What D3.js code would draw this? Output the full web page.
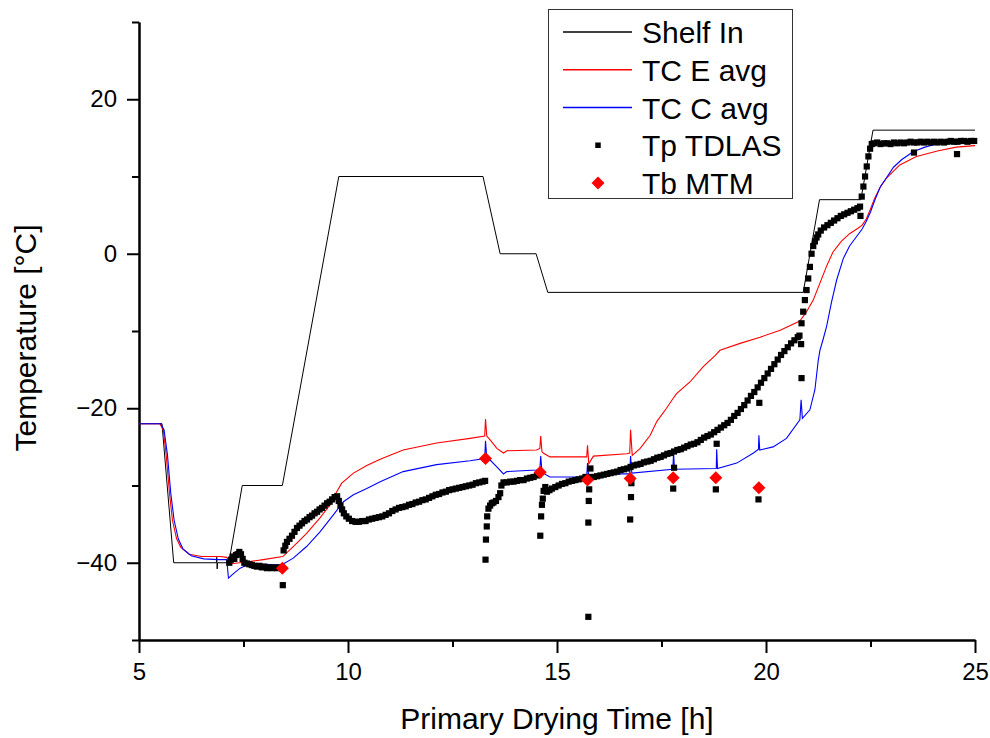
<!DOCTYPE html>
<html>
<head>
<meta charset="utf-8">
<script src="https://cdn.jsdelivr.net/npm/d3@7"></script>
<style>
  body { margin: 0; background: #fff; }
  svg { display: block; font-family: "Liberation Sans", Arial, sans-serif; }
</style>
</head>
<body>
<svg width="990" height="738"></svg>
<script>
// data: [time h, temperature °C]
var shelfIn = [[5,-22],[5.55,-22],[5.83,-40],[6.85,-40],[6.86,-39.3],[6.87,-40.8],[6.88,-40],[7.15,-40],
  [7.47,-30],[8.43,-30],[9.78,10],[13.23,10],[13.64,0],[14.5,0],[14.78,-5],[20.89,-5],[21.28,7],
  [22.27,7],[22.56,16],[25,16]];

var tcE = [[5,-22],[5.5,-22],[5.58,-22.8],[5.65,-26],[5.73,-31],[5.8,-34.5],[5.9,-36.9],[6,-38],
  [6.2,-38.9],[6.5,-39.2],[6.94,-39.2],[7.1,-39.3],[7.16,-39.9],[7.25,-40.1],[7.58,-39.9],[7.97,-39.6],
  [8.44,-39.2],[8.69,-37.9],[9.01,-36.2],[9.33,-34.2],[9.57,-32.5],[9.71,-31],[9.85,-29.7],[10.13,-28.4],
  [10.45,-27.4],[10.77,-26.6],[11.32,-25.4],[12.12,-24.5],[12.92,-23.9],[13.27,-23.6],[13.29,-21.4],
  [13.32,-23.6],[13.4,-24.1],[13.56,-25.2],[13.72,-25.8],[13.8,-25.5],[14.51,-25.4],[14.59,-25.2],
  [14.61,-23.6],[14.64,-25.6],[14.67,-25.8],[14.83,-26.3],[15.31,-26.3],[15.71,-26.3],[15.73,-24.8],
  [15.76,-27.2],[15.87,-26.2],[16.67,-25.9],[16.74,-25.8],[16.76,-22.8],[16.8,-26.1],[16.99,-25.2],
  [17.23,-23.5],[17.39,-21.7],[17.62,-20],[17.78,-18.7],[17.86,-18.1],[18.18,-16.6],[18.5,-14.6],
  [18.78,-13.2],[18.9,-12.5],[19.38,-11.6],[19.86,-10.8],[20.34,-9.9],[20.81,-8.7],[20.97,-7.5],
  [21.13,-6],[21.29,-3.8],[21.45,-1.6],[21.6,0.2],[21.8,1.6],[22,2.6],[22.2,3.3],[22.3,3.7],[22.4,4.5],
  [22.5,5.8],[22.6,7.2],[22.75,8.8],[22.9,9.9],[23.2,11.5],[23.6,12.6],[24.1,13.3],[24.55,13.8],[25,14]];

var tcC = [[5,-22],[5.52,-22],[5.6,-22.8],[5.68,-26],[5.76,-31],[5.84,-34.5],[5.94,-36.9],[6.05,-38.2],
  [6.25,-39.1],[6.55,-39.5],[6.9,-39.6],[7.1,-39.6],[7.14,-42],[7.26,-41.4],[7.42,-40.7],[7.58,-40.3],
  [7.97,-40.2],[8.41,-40.3],[8.69,-39.4],[9.01,-37.9],[9.33,-36],[9.65,-33.8],[9.89,-32.1],[10.13,-31.2],
  [10.45,-30.4],[10.77,-29.5],[11.32,-28.2],[12.12,-27.3],[12.92,-26.8],[13.27,-26.5],[13.29,-24.2],
  [13.32,-26.5],[13.4,-26.7],[13.56,-27.6],[13.72,-28.5],[13.8,-28.2],[14.51,-28],[14.59,-27.9],
  [14.61,-26.2],[14.64,-28.2],[14.67,-28.4],[14.83,-28.9],[15.71,-28.9],[15.73,-27.1],[15.76,-28.9],
  [16.51,-28.5],[16.74,-28.5],[16.76,-26.2],[16.79,-28.4],[17.77,-27.9],[17.79,-25.8],[17.81,-27.9],
  [18.81,-27.8],[18.82,-25.3],[18.84,-27.8],[19.3,-27.1],[19.7,-25.8],[19.82,-25.3],[19.83,-23.5],
  [19.85,-25.4],[20.17,-25],[20.49,-23.9],[20.81,-21.5],[20.84,-18.9],[20.87,-21.3],[21.05,-20.2],
  [21.17,-17.6],[21.25,-13.8],[21.29,-12.5],[21.37,-11],[21.45,-9.4],[21.57,-6.2],[21.69,-3.4],
  [21.85,-0.6],[22,1],[22.15,2.1],[22.3,3.2],[22.4,4.2],[22.5,5.4],[22.6,6.9],[22.73,8.6],[22.89,9.9],
  [23.05,11.2],[23.25,12.2],[23.52,13.2],[23.8,13.8],[24.08,14.2],[24.4,14.5],[25,14.7]];

var tpTdlas = [
  [7.16,-40],[7.2,-39.6],[7.24,-39.2],[7.28,-39.5],[7.32,-39],[7.36,-38.9],[7.4,-38.6],[7.44,-38.9],
  [7.48,-39.5],[7.52,-40],[7.58,-40.1],[7.64,-40.2],[7.7,-40.3],[7.76,-40.4],[7.82,-40.5],[7.88,-40.4],
  [7.94,-40.6],[8,-40.5],[8.06,-40.7],[8.12,-40.6],[8.18,-40.7],[8.24,-40.6],[8.3,-40.7],[8.36,-40.6],
  [8.42,-40.7],[8.44,-42.9],
  [8.46,-38.4],[8.5,-37.8],[8.54,-37.3],[8.6,-36.9],[8.66,-36.5],[8.72,-36],[8.78,-35.5],[8.84,-35.2],
  [8.9,-34.9],[8.96,-34.6],[9.02,-34.4],[9.08,-34.1],[9.14,-33.9],[9.2,-33.6],[9.26,-33.4],[9.32,-33.1],
  [9.38,-32.9],[9.44,-32.6],[9.5,-32.3],[9.56,-32.1],[9.62,-31.8],[9.68,-31.5],[9.74,-31.4],
  [9.78,-32],[9.82,-32.6],[9.86,-33.1],[9.9,-33.6],[9.96,-34],[10.02,-34.3],[10.1,-34.6],[10.18,-34.7],
  [10.26,-34.7],[10.34,-34.6],[10.42,-34.6],[10.5,-34.4],[10.58,-34.3],[10.66,-34.2],[10.74,-34.1],
  [10.82,-34],[10.9,-33.8],[10.98,-33.6],[11.06,-33.3],[11.14,-33.1],[11.22,-32.9],[11.3,-32.8],
  [11.38,-32.7],[11.46,-32.5],[11.54,-32.4],[11.62,-32.2],[11.7,-32.1],[11.78,-31.9],[11.86,-31.8],
  [11.94,-31.6],[12.02,-31.4],[12.1,-31.2],[12.18,-31.1],[12.26,-30.9],[12.34,-30.8],[12.42,-30.6],
  [12.5,-30.5],[12.58,-30.4],[12.66,-30.3],[12.74,-30.2],[12.82,-30.1],[12.9,-30],[12.98,-29.9],
  [13.06,-29.7],[13.14,-29.6],[13.22,-29.5],[13.28,-29.4],
  [13.29,-39.6],[13.3,-37],[13.32,-35.3],[13.33,-34],[13.36,-33],[13.4,-32.6],[13.44,-32.3],[13.48,-32.2],
  [13.54,-32],[13.6,-31.5],[13.64,-31],[13.67,-30],[13.72,-29.6],[13.8,-29.6],[13.88,-29.5],[13.96,-29.5],
  [14.04,-29.4],[14.12,-29.3],[14.2,-29.3],[14.28,-29.1],[14.36,-29],[14.44,-28.9],[14.52,-28.7],
  [14.56,-28.6],
  [14.6,-36.5],[14.62,-34],[14.64,-32.5],[14.66,-31.7],[14.68,-30.7],[14.72,-30.2],[14.76,-30.8],
  [14.82,-30.6],[14.88,-30.4],[14.96,-30.2],[15.04,-30],[15.12,-29.8],[15.2,-29.7],[15.28,-29.5],
  [15.36,-29.4],[15.44,-29.3],[15.52,-29.2],[15.6,-29.1],[15.68,-28.9],[15.72,-28.9],
  [15.75,-47],[15.75,-34.8],[15.76,-32],[15.77,-30.5],[15.8,-27.8],
  [15.82,-28.9],[15.88,-28.9],[15.96,-28.8],[16.04,-28.7],[16.12,-28.6],[16.2,-28.5],[16.28,-28.4],
  [16.36,-28.3],[16.44,-28.2],[16.52,-28],[16.6,-27.9],[16.68,-27.8],[16.76,-27.6],
  [16.75,-34.4],[16.77,-31.5],[16.78,-29.7],
  [16.84,-27.4],[16.92,-27.3],[17,-27.2],[17.08,-27],[17.16,-26.9],[17.24,-26.8],[17.32,-26.6],
  [17.4,-26.4],[17.48,-26.3],[17.56,-26.1],[17.64,-25.9],[17.72,-25.8],[17.8,-25.6],[17.88,-25.4],
  [17.96,-25.3],[18.04,-25.1],[18.12,-24.9],[18.2,-24.7],[18.28,-24.6],[18.36,-24.4],[18.44,-24.1],
  [18.52,-23.8],[18.6,-23.6],[18.68,-23.4],[18.76,-23.1],[18.84,-22.8],[18.92,-22.5],[19,-22.2],
  [19.08,-21.9],[19.16,-21.5],[19.24,-21],[19.32,-20.6],[19.4,-20.1],[19.48,-19.6],[19.56,-19],
  [19.64,-18.4],[19.72,-17.9],[19.8,-17.3],[19.88,-16.7],[19.96,-16.1],[20.04,-15.5],[20.12,-14.9],
  [20.2,-14.3],[20.28,-13.7],[20.36,-13.1],[20.44,-12.6],[20.52,-12.1],[20.6,-11.6],[20.68,-11.2],
  [20.76,-10.8],[20.8,-10.6],
  [17.78,-30.4],[17.8,-27.7],[18.8,-30.5],[18.82,-24.6],[19.82,-31.8],[19.84,-19.3],[20.85,-16.1],[20.84,-11.7],
  [20.85,-9],[20.89,-7.5],[20.93,-6],[20.97,-4.7],[21.01,-3.2],[21.05,-1.7],[21.09,0],[21.13,1],
  [21.17,1.6],[21.21,2.1],[21.25,2.5],[21.31,3],[21.39,3.4],[21.47,3.7],[21.55,4],[21.63,4.3],
  [21.71,4.6],[21.79,4.9],[21.87,5.1],[21.95,5.3],[22.03,5.5],[22.11,5.7],[22.19,5.9],[22.25,6.1],
  [22.26,4.9],
  [22.29,7.4],[22.33,8.7],[22.37,10],[22.41,11.3],[22.45,12.6],[22.49,13.6],[22.53,14.2],[22.58,14.3],
  [22.66,14.4],[22.74,14.2],[22.82,14.3],[22.9,14.3],[22.98,14.2],[23.06,14.4],[23.14,14.3],[23.22,14.4],
  [23.3,14.3],[23.38,14.4],[23.46,14.5],[23.54,14.4],[23.62,14.4],[23.7,14.5],[23.78,14.4],[23.86,14.5],
  [23.94,14.4],[24.02,14.5],[24.1,14.4],[24.18,14.5],[24.26,14.4],[24.34,14.5],[24.42,14.6],[24.5,14.5],
  [24.58,14.5],[24.66,14.6],[24.74,14.6],[24.82,14.5],[24.9,14.6],[24.98,14.6],
  [23.54,13.1],[24.57,12.9]];

var tbMtm = [[8.43,-40.7],[13.29,-26.5],[14.6,-28.3],[15.73,-29.3],[16.75,-29.1],[17.78,-29],[18.8,-29],[19.83,-30.3]];

var xMajor = [5, 10, 15, 20, 25],
    xMinor = [7.5, 12.5, 17.5, 22.5],
    yMajor = [-40, -20, 0, 20],
    yMinor = [-50, -30, -10, 10, 30];

var legendNames = ['Shelf In', 'TC E avg', 'TC C avg', 'Tp TDLAS', 'Tb MTM'];

var svg = d3.select('svg');

var x = d3.scaleLinear().domain([5, 25]).range([139, 975]),
    y = d3.scaleLinear().domain([-50, 30]).range([640, 22]);

// axes
svg.append('g')
  .attr('transform', 'translate(0,640)')
  .call(d3.axisBottom(x).tickValues(xMinor).tickFormat('').tickSize(7).tickSizeOuter(0));
svg.append('g')
  .attr('transform', 'translate(0,640)')
  .call(d3.axisBottom(x).tickValues(xMajor).tickFormat(d3.format('d')).tickSize(13).tickSizeOuter(0).tickPadding(10));

svg.append('g')
  .attr('transform', 'translate(139,0)')
  .call(d3.axisLeft(y).tickValues(yMinor).tickFormat('').tickSize(7).tickSizeOuter(0));
svg.append('g')
  .attr('transform', 'translate(139,0)')
  .call(d3.axisLeft(y).tickValues(yMajor).tickFormat(d3.format('d')).tickSize(12).tickSizeOuter(0).tickPadding(10));

svg.selectAll('.domain, .tick line')
  .attr('stroke', '#000')
  .attr('stroke-width', 2);
svg.selectAll('.tick text')
  .attr('fill', '#000')
  .style('font-size', '24px');

// axis titles
svg.append('text')
  .attr('x', 557)
  .attr('y', 729)
  .attr('text-anchor', 'middle')
  .style('font-size', '30px')
  .text('Primary Drying Time [h]');
svg.append('text')
  .attr('transform', 'translate(36,338) rotate(-90)')
  .attr('text-anchor', 'middle')
  .style('font-size', '30px')
  .text('Temperature [°C]');

// lines
var line = d3.line()
  .x(function(d) { return x(d[0]); })
  .y(function(d) { return y(d[1]); });

svg.append('path')
  .attr('d', line(shelfIn))
  .attr('fill', 'none')
  .attr('stroke', '#000')
  .attr('stroke-width', 1);
svg.append('path')
  .attr('d', line(tcE))
  .attr('fill', 'none')
  .attr('stroke', '#ff0000')
  .attr('stroke-width', 1.1);
svg.append('path')
  .attr('d', line(tcC))
  .attr('fill', 'none')
  .attr('stroke', '#0000ff')
  .attr('stroke-width', 1.1);

// TDLAS squares
var sq = 6.2;
svg.append('g').selectAll('rect')
  .data(tpTdlas)
  .enter().append('rect')
  .attr('x', function(d) { return x(d[0]) - sq / 2; })
  .attr('y', function(d) { return y(d[1]) - sq / 2; })
  .attr('width', sq)
  .attr('height', sq)
  .attr('fill', '#000');

// MTM diamonds
var diamond = 'M0,-6.5L6.5,0L0,6.5L-6.5,0Z';
svg.append('g').selectAll('path')
  .data(tbMtm)
  .enter().append('path')
  .attr('d', diamond)
  .attr('transform', function(d) { return 'translate(' + x(d[0]) + ',' + y(d[1]) + ')'; })
  .attr('fill', '#ff0000');

// legend
var leg = svg.append('g');
leg.append('rect')
  .attr('x', 548.5)
  .attr('y', 9.5)
  .attr('width', 244)
  .attr('height', 189)
  .attr('fill', '#fff')
  .attr('stroke', '#333')
  .attr('stroke-width', 1);

var rowY = d3.scalePoint().domain(legendNames).range([32, 183]);
var lineColors = ['#000', '#ff0000', '#0000ff'];

legendNames.forEach(function(name, i) {
  var ry = rowY(name);
  if (i < 3) {
    leg.append('line')
      .attr('x1', 563).attr('x2', 632)
      .attr('y1', ry).attr('y2', ry)
      .attr('stroke', lineColors[i])
      .attr('stroke-width', 1.6);
  } else if (i == 3) {
    leg.append('rect')
      .attr('x', 598 - 2.75).attr('y', ry - 2.75)
      .attr('width', 5.5).attr('height', 5.5)
      .attr('fill', '#000');
  } else {
    leg.append('path')
      .attr('d', diamond)
      .attr('transform', 'translate(598,' + ry + ')')
      .attr('fill', '#ff0000');
  }
  leg.append('text')
    .attr('x', 642)
    .attr('y', ry + 11)
    .style('font-size', '30px')
    .text(name);
});
</script>
</body>
</html>
